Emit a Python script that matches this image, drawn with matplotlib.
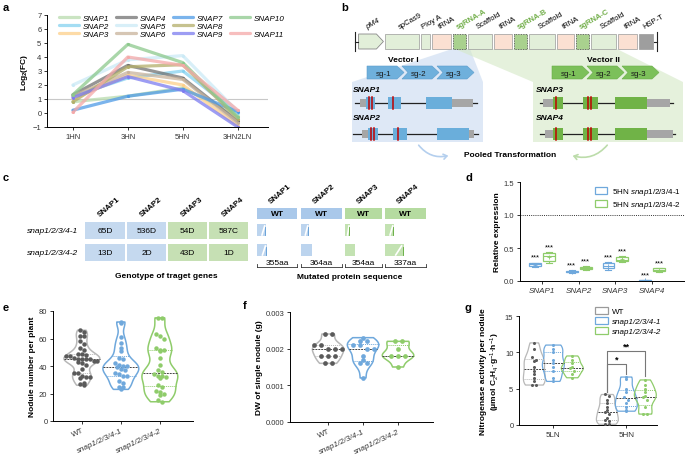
import numpy as np
import matplotlib
matplotlib.use('Agg')
import matplotlib.pyplot as plt
from matplotlib.patches import Polygon, Rectangle, FancyArrowPatch
from matplotlib.lines import Line2D

plt.rcParams['font.family'] = ['Liberation Sans', 'DejaVu Sans']
plt.rcParams['mathtext.fontset'] = 'custom'
plt.rcParams['mathtext.rm'] = 'Liberation Sans'
plt.rcParams['mathtext.it'] = 'Liberation Sans:italic'
plt.rcParams['mathtext.bf'] = 'Liberation Sans:bold'
plt.rcParams['axes.linewidth'] = 0.7
plt.rcParams['xtick.major.width'] = 0.7
plt.rcParams['ytick.major.width'] = 0.7
plt.rcParams['xtick.major.size'] = 2.5
plt.rcParams['ytick.major.size'] = 2.5
plt.rcParams['xtick.labelsize'] = 5.5
plt.rcParams['ytick.labelsize'] = 5.5
plt.rcParams['xtick.major.pad'] = 1.5
plt.rcParams['ytick.major.pad'] = 1.5

# ------------------------------------------------------------------ data
# panel a
stages = ['1HN', '3HN', '5HN', '3HN2LN']
snap_names = ['SNAP1', 'SNAP2', 'SNAP3', 'SNAP4', 'SNAP5', 'SNAP6',
              'SNAP7', 'SNAP8', 'SNAP9', 'SNAP10', 'SNAP11']
snap1_fc = [0.8, 1.2, 1.8, -0.2]
snap2_fc = [1.2, 2.5, 3.0, 0.0]
snap3_fc = [1.0, 2.7, 2.0, -0.9]
snap4_fc = [1.3, 3.4, 2.5, -0.6]
snap5_fc = [2.0, 3.8, 4.1, 0.1]
snap6_fc = [1.2, 2.9, 2.4, -0.7]
snap7_fc = [0.2, 1.2, 1.7, 0.1]
snap8_fc = [0.8, 3.3, 3.45, -0.4]
snap9_fc = [1.1, 2.6, 1.6, -1.0]
snap10_fc = [1.3, 4.9, 3.6, -0.3]
snap11_fc = [0.05, 4.0, 3.4, 0.2]
snap_colors = ['#b9dcae', '#86d2f0', '#fdd08a', '#727272', '#cbeaf6', '#c9b39b',
               '#4f9be6', '#b3ae6a', '#7d7cf0', '#8cc98c', '#f5a9a9']

# panel b
bar_parts = ['pM4', 'spCas9', 'Ploy A', 'tRNA', 'sgRNA-A', 'Scaffold', 'tRNA',
             'sgRNA-B', 'Scaffold', 'tRNA', 'sgRNA-C', 'Scaffold', 'tRNA', 'HSP-T']
vector1_genes = ['SNAP1', 'SNAP2']
vector2_genes = ['SNAP3', 'SNAP4']
sg_labels = ['sg-1', 'sg-2', 'sg-3']

# panel c
c_genes = ['SNAP1', 'SNAP2', 'SNAP3', 'SNAP4']
c_lines = ['snap1/2/3/4-1', 'snap1/2/3/4-2']
genotype_line1 = ['65D', '536D', '54D', '587C']
genotype_line2 = ['13D', '2D', '43D', '1D']
protein_len = [355, 364, 354, 337]
mutant_len_line1 = [80, 70, 45, 75]
mutant_len_line2 = [88, 95, 93, 160]

# panel d
d_genes = ['SNAP1', 'SNAP2', 'SNAP3', 'SNAP4']
d_labels = ['5HN $\\mathit{snap1/2/3/4}$-$\\mathit{1}$', '5HN $\\mathit{snap1/2/3/4}$-$\\mathit{2}$']
d1_low = [0.21, 0.12, 0.17, 0.00]
d1_q1 = [0.23, 0.13, 0.19, 0.005]
d1_med = [0.26, 0.14, 0.23, 0.01]
d1_q3 = [0.27, 0.15, 0.27, 0.015]
d1_high = [0.28, 0.16, 0.29, 0.02]
d2_low = [0.28, 0.17, 0.29, 0.14]
d2_q1 = [0.31, 0.18, 0.30, 0.15]
d2_med = [0.38, 0.19, 0.32, 0.17]
d2_q3 = [0.42, 0.21, 0.36, 0.19]
d2_high = [0.44, 0.22, 0.38, 0.20]

# panel e
e_groups = ['WT', 'snap1/2/3/4-1', 'snap1/2/3/4-2']
e_wt = [66, 65, 62, 62, 58, 56, 53, 52, 49, 49, 48, 47, 47, 46, 45, 45, 45, 45,
        44, 44, 43, 42, 41, 38, 35, 35, 33, 32, 32, 31, 28, 27, 26]
e_m1 = [72, 71, 61, 57, 53, 51, 46, 45, 42, 41, 40, 40, 39, 38, 37, 35, 34, 33,
        33, 29, 28, 25, 25, 23]
e_m2 = [75, 75, 63, 62, 60, 53, 52, 52, 51, 46, 41, 37, 36, 34, 33, 33, 32, 31,
        26, 25, 22, 21, 20, 19, 15, 14]

# panel f
f_wt = [0.0024, 0.0024, 0.0021, 0.0021, 0.0020, 0.0020, 0.0020, 0.0018, 0.0018,
        0.0018, 0.0016, 0.0016]
f_m1 = [0.0023, 0.0022, 0.0022, 0.0021, 0.0021, 0.0020, 0.0020, 0.0018, 0.0017,
        0.0016, 0.0016, 0.0012]
f_m2 = [0.0022, 0.0022, 0.0020, 0.0018, 0.0018, 0.0018, 0.0015]

# panel g
g_conditions = ['5LN', '5HN']
g_legend = ['WT', 'snap1/2/3/4-1', 'snap1/2/3/4-2']
g_wt_ln = [11.3, 10.5, 9.3, 9.0, 8.8, 8.0, 7.5, 7.0, 6.5, 6.0, 5.5, 5.5]
g_m1_ln = [11.0, 10.5, 10.0, 9.0, 8.5, 8.0, 7.5, 6.5, 6.0]
g_m2_ln = [9.5, 9.0, 8.5, 8.0, 7.8, 7.5, 7.0, 6.5]
g_wt_hn = [4.2, 4.0, 3.5, 3.0, 2.5, 2.0, 1.8, 1.5, 1.0, 0.7, 0.5, 0.2, 0.1]
g_m1_hn = [6.6, 6.3, 5.0, 4.5, 3.8, 3.5, 3.0, 2.5, 2.0, 1.9]
g_m2_hn = [6.2, 5.5, 5.0, 4.5, 4.0, 3.8, 3.5, 2.5, 1.5, 1.5]

# ------------------------------------------------------------------ layout helpers
W, H = 685, 460
fig = plt.figure(figsize=(6.85, 4.6), dpi=100)


def rect(x0, y0, x1, y1):
    return [x0 / W, 1 - y1 / H, (x1 - x0) / W, (y1 - y0) / H]


BLUE = '#6fa8dc'
GREEN = '#8fcc6b'
GREY_PT = '#5a5a5a'
GREY_V = '#b8b8b8'

axf = fig.add_axes([0, 0, 1, 1], zorder=0)
axf.set_xlim(0, W)
axf.set_ylim(H, 0)
axf.axis('off')

for lab, (x, y) in zip('abcdefg', [(3, 8), (341, 8), (3, 178), (466, 178), (3, 308), (243, 306), (465, 308)]):
    axf.text(x, y, lab, fontsize=8, fontweight='bold', va='center', ha='left')


def style(ax):
    for s in ['top', 'right']:
        ax.spines[s].set_visible(False)
    ax.tick_params(colors='#333333')


# ------------------------------------------------------------------ panel a
axa = fig.add_axes(rect(47, 16, 268, 128))
style(axa)
series = [snap1_fc, snap2_fc, snap3_fc, snap4_fc, snap5_fc, snap6_fc, snap7_fc,
          snap8_fc, snap9_fc, snap10_fc, snap11_fc]
xs = np.arange(len(stages))
handles = []
for name, vals, col in zip(snap_names, series, snap_colors):
    h, = axa.plot(xs, vals, color=col, lw=2.3, alpha=0.75, solid_capstyle='round')
    axa.plot(xs, vals, 'o', color=col, ms=2.2, mec='none')
    handles.append(h)
axa.axhline(1, color='#c8c8c8', lw=0.8, zorder=0)
axa.set_xlim(-0.47, 3.55)
axa.set_ylim(-1, 7)
axa.set_yticks(range(-1, 8))
axa.set_xticks(xs)
axa.set_xticklabels(stages)
axa.set_ylabel('Log$_\\mathbf{2}$(FC)', fontsize=6, fontweight='bold', labelpad=2)
blank = Line2D([], [], color='none')
leg_h = handles[:10] + [blank, handles[10]]
leg_l = snap_names[:10] + ['', snap_names[10]]
axa.legend(leg_h, leg_l, ncol=4, loc='upper left', bbox_to_anchor=(0.03, 1.06),
           frameon=False, prop={'size': 5.8, 'style': 'italic'}, handlelength=2.4,
           handletextpad=0.5, columnspacing=0.9, labelspacing=0.05, borderpad=0.2)

# ------------------------------------------------------------------ panel b
edges = [358, 384, 420, 431, 452, 467, 493, 513, 528, 556, 575, 590, 617, 638, 654]
by0, by1 = 35, 50
axf.add_patch(Polygon([(452, by1), (470, by1), (483, 83), (483, 143), (352, 143), (352, 83)],
                      closed=True, fc='#c9daf0', ec='none', alpha=0.6, zorder=1))
axf.add_patch(Polygon([(455, by1), (617, by1), (683, 83), (683, 143), (533, 143), (533, 83)],
                      closed=True, fc='#d4e8c6', ec='none', alpha=0.6, zorder=1))
part_fc = {'pM4': '#e2efd9', 'spCas9': '#e2efd9', 'Ploy A': '#e2efd9', 'tRNA': '#fbe0d2',
           'Scaffold': '#e2efd9', 'HSP-T': '#9e9e9e'}
for i, name in enumerate(bar_parts):
    x0, x1 = edges[i] + 0.6, edges[i + 1] - 0.6
    if name == 'pM4':
        axf.add_patch(Polygon([(x0, by0), (x1 - 7, by0), (x1, (by0 + by1) / 2), (x1 - 7, by1), (x0, by1)],
                              closed=True, fc=part_fc[name], ec='#888888', lw=0.6, zorder=3))
    elif name.startswith('sgRNA'):
        axf.add_patch(Rectangle((x0, by0), x1 - x0, by1 - by0, fc='#a9d18e', ec='#444444',
                                lw=0.6, ls=(0, (1, 1)), zorder=3))
    else:
        axf.add_patch(Rectangle((x0, by0), x1 - x0, by1 - by0, fc=part_fc[name], ec='#999999',
                                lw=0.5, zorder=3))
    cx = (edges[i] + edges[i + 1]) / 2
    kw = dict(fontsize=5.5, rotation=30, rotation_mode='anchor', ha='left', va='bottom', zorder=4)
    if name.startswith('sgRNA'):
        axf.text(cx - 1, 31, name, color='#70ad47', fontweight='bold', **kw)
    elif name == 'pM4':
        axf.text(cx - 3, 31, name, style='italic', **kw)
    else:
        axf.text(cx - 1, 31, name, **kw)
axf.plot([355, 355], [33, 52], color='#222222', lw=0.8, zorder=4)
axf.plot([355, 358], [42.5, 42.5], color='#222222', lw=0.8, zorder=4)
axf.plot([657, 657], [33, 52], color='#222222', lw=0.8, zorder=4)
axf.plot([654, 657], [42.5, 42.5], color='#222222', lw=0.8, zorder=4)


def sg_arrows(x_start, color, ec):
    wd, ht, tip = 35, 13, 7
    y0 = 67
    for k, lab in enumerate(sg_labels):
        xa = x_start + k * wd
        pts = [(xa, y0), (xa + wd - tip + 2, y0), (xa + wd + 2, y0 + ht / 2),
               (xa + wd - tip + 2, y0 + ht), (xa, y0 + ht)]
        if k > 0:
            pts.append((xa + tip - 1, y0 + ht / 2))
        axf.add_patch(Polygon(pts, closed=True, fc=color, ec=ec, lw=0.4, zorder=3))
        axf.text(xa + wd / 2 - 1, y0 + ht / 2 + 0.5, lab, fontsize=5.8, ha='center', va='center',
                 color='#1a1a1a', zorder=4)


sg_arrows(367, '#6fb0dc', '#5a9ccc')
sg_arrows(552, '#7cc05a', '#69ad48')
axf.text(403, 61, 'Vector I', fontsize=6, fontweight='bold', ha='center', va='center', zorder=4)
axf.text(603, 61, 'Vector II', fontsize=6, fontweight='bold', ha='center', va='center', zorder=4)


def gene_model(y, xline, grey_l, exons, grey_r, cuts, ecol):
    axf.plot(xline, [y, y], color='#222222', lw=0.9, zorder=3)
    for (a, b) in [grey_l, grey_r]:
        axf.add_patch(Rectangle((a, y - 4), b - a, 8, fc='#a6a6a6', ec='none', zorder=4))
    for (a, b) in exons:
        axf.add_patch(Rectangle((a, y - 6), b - a, 12, fc=ecol, ec='none', zorder=4))
    for c in cuts:
        axf.plot([c, c], [y - 6, y + 6], color='#c00000', lw=1.1, zorder=5)


gene_model(104, [355, 477], (360, 366), [(366, 375), (388, 401), (426, 452)], (452, 473), [369, 372.5, 393], '#6aaedb')
gene_model(135, [353, 478], (362, 368), [(368, 378), (393, 407), (437, 469)], (469, 474), [371, 374.5, 398], '#6aaedb')
gene_model(104, [540, 673], (543, 553), [(553, 563), (583, 598), (615, 647)], (647, 670), [556.5, 588, 591.5], '#70b347')
gene_model(135, [540, 675], (545, 553), [(553, 563), (583, 598), (615, 647)], (647, 673), [556.5, 588, 591.5], '#70b347')
for g, y in zip(vector1_genes, [91, 119]):
    axf.text(353, y, g, fontsize=6, fontweight='bold', style='italic', va='center', zorder=5)
for g, y in zip(vector2_genes, [91, 119]):
    axf.text(536, y, g, fontsize=6, fontweight='bold', style='italic', va='center', zorder=5)
axf.text(510, 156, 'Pooled Transformation', fontsize=6, fontweight='bold', ha='center', va='center', zorder=5)
axf.add_patch(FancyArrowPatch((417, 144), (451, 156), connectionstyle='arc3,rad=0.35',
                              arrowstyle='->,head_length=2.5,head_width=1.8', color='#b4cfee', lw=1.2, zorder=5))
axf.add_patch(FancyArrowPatch((609, 144), (570, 156), connectionstyle='arc3,rad=-0.35',
                              arrowstyle='->,head_length=2.5,head_width=1.8', color='#bcdcaa', lw=1.2, zorder=5))

# ------------------------------------------------------------------ panel c
cell_x = [(85, 125), (127, 166), (168, 207), (209, 248)]
cell_y = [(223, 240), (245, 262)]
cell_col = ['#c5d9ef', '#c5d9ef', '#c6e0b4', '#c6e0b4']
for r, (row, (ya, yb)) in enumerate(zip([genotype_line1, genotype_line2], cell_y)):
    axf.text(78, (ya + yb) / 2, c_lines[r], fontsize=6, style='italic', ha='right', va='center')
    for txt, (xa, xb), col in zip(row, cell_x, cell_col):
        axf.add_patch(Rectangle((xa, ya), xb - xa, yb - ya, fc=col, ec='none'))
        axf.text((xa + xb) / 2, (ya + yb) / 2 + 0.5, txt, fontsize=6, ha='center', va='center')
for g, (xa, xb) in zip(c_genes, cell_x):
    axf.text(xa + 16, 219, g, fontsize=5.8, fontweight='bold', rotation=40,
             rotation_mode='anchor', ha='left', va='bottom')
axf.text(166, 277, 'Genotype of traget genes', fontsize=6, fontweight='bold', ha='center', va='center')

wt_x0 = [257, 301, 345, 385]
wt_w = [40, 41, 37, 41]
prot_col = ['#a9c8ea', '#a9c8ea', '#b5dba0', '#b5dba0']
prot_light = ['#bcd4ee', '#bcd4ee', '#c3e2b2', '#c3e2b2']
stripe_col = ['#5d9bd5', '#5d9bd5', '#5fa83a', '#5fa83a']
for k in range(4):
    x0, w = wt_x0[k], wt_w[k]
    axf.add_patch(Rectangle((x0, 209), w, 11, fc=prot_col[k], ec='none'))
    axf.text(x0 + w / 2, 214.8, 'WT', fontsize=6, fontweight='bold', ha='center', va='center')
    axf.text(x0 + 15, 206, c_genes[k], fontsize=5.8, fontweight='bold', rotation=40,
             rotation_mode='anchor', ha='left', va='bottom')
    for (ya, mlen, stripe) in [(225, mutant_len_line1[k], True), (245, mutant_len_line2[k], k != 1 and k != 2)]:
        mw = w * mlen / protein_len[k]
        axf.add_patch(Rectangle((x0, ya), mw, 12, fc=prot_light[k], ec='none'))
        if stripe:
            axf.plot([x0 + mw * 0.55, x0 + mw * 0.85], [ya + 11, ya + 2], color='white', lw=1.2)
            axf.plot([x0 + mw * 0.92, x0 + mw * 0.92], [ya + 3, ya + 11], color=stripe_col[k], lw=0.6)
    axf.plot([x0, x0 + w], [268, 268], color='#333333', lw=0.6)
    axf.plot([x0, x0], [264.5, 268], color='#333333', lw=0.6)
    axf.plot([x0 + w, x0 + w], [264.5, 268], color='#333333', lw=0.6)
    axf.text(x0 + w / 2, 267.5, f'{protein_len[k]}aa', fontsize=6, ha='center', va='bottom')
axf.text(350, 278, 'Mutated protein sequence', fontsize=6, fontweight='bold', ha='center', va='center')

# ------------------------------------------------------------------ panel d
axd = fig.add_axes(rect(520, 183, 685, 282))
style(axd)
dpos = np.arange(len(d_genes))
for stats_src, off, col, lab in [((d1_low, d1_q1, d1_med, d1_q3, d1_high), -0.19, BLUE, d_labels[0]),
                                 ((d2_low, d2_q1, d2_med, d2_q3, d2_high), 0.19, GREEN, d_labels[1])]:
    lo, q1, md, q3, hi = stats_src
    stats = [dict(whislo=lo[i], q1=q1[i], med=md[i], q3=q3[i], whishi=hi[i],
                  mean=(q1[i] + q3[i]) / 2, fliers=[]) for i in range(len(d_genes))]
    axd.bxp(stats, positions=dpos + off, widths=0.32, showfliers=False, showmeans=True,
            patch_artist=True,
            boxprops=dict(facecolor='none', edgecolor=col, lw=0.9),
            whiskerprops=dict(color=col, lw=0.8), capprops=dict(color=col, lw=0.8),
            medianprops=dict(color=col, lw=0.8),
            meanprops=dict(marker='+', markeredgecolor=col, markersize=3, markeredgewidth=0.6))
    for i in range(len(d_genes)):
        axd.text(dpos[i] + off, hi[i] + 0.025, '***', fontsize=5.5, ha='center', va='bottom')
axd.axhline(1.0, color='#333333', lw=0.7, ls=(0, (1, 1.2)))
axd.set_xlim(-0.6, 3.9)
axd.set_ylim(0, 1.5)
axd.set_yticks([0, 0.5, 1.0, 1.5])
axd.set_yticklabels(['0.0', '0.5', '1.0', '1.5'])
axd.set_xticks(dpos)
axd.set_xticklabels(d_genes, style='italic', fontsize=5.8)
axd.set_ylabel('Relative expression', fontsize=6, fontweight='bold', labelpad=2)
leg_handles = [Rectangle((0, 0), 1, 1, fc='white', ec=BLUE, lw=0.9),
               Rectangle((0, 0), 1, 1, fc='white', ec=GREEN, lw=0.9)]
axd.legend(leg_handles, d_labels, loc='upper right', bbox_to_anchor=(1.02, 1.03), frameon=False,
           fontsize=5.8, handlelength=1.6, handleheight=1.0, handletextpad=0.6, labelspacing=0.25)


# ------------------------------------------------------------------ violins
def swarm_x(vals, center, bin_size, dx):
    vals = np.asarray(vals, dtype=float)
    out = np.zeros(len(vals))
    bins = np.floor(vals / bin_size)
    for b in np.unique(bins):
        idx = np.where(bins == b)[0]
        n = len(idx)
        out[idx] = center + (np.arange(n) - (n - 1) / 2) * dx
    return out


def violin(ax, data, pos, width, ecol, pcol, bw, bin_size, dx, ms=3.2, lw=1.1):
    parts = ax.violinplot([data], positions=[pos], widths=width, showextrema=False, bw_method=bw)
    body = parts['bodies'][0]
    body.set_alpha(1)
    body.set_facecolor('none')
    body.set_edgecolor(ecol)
    body.set_linewidth(lw)
    verts = body.get_paths()[0].vertices
    right = verts[verts[:, 0] >= pos]
    order = np.argsort(right[:, 1])
    ry, rx = right[order, 1], right[order, 0]
    q1, md, q3 = np.percentile(data, [25, 50, 75])
    for q, ls, c in [(q1, (0, (1, 1)), ecol), (q3, (0, (1, 1)), ecol), (md, (0, (2, 1)), '#444444')]:
        hw = np.interp(q, ry, rx) - pos
        ax.plot([pos - hw, pos + hw], [q, q], color=c, lw=0.7, ls=ls, zorder=2)
    ax.scatter(swarm_x(data, pos, bin_size, dx), data, s=ms ** 2, color=pcol, zorder=3, lw=0)


# ------------------------------------------------------------------ panel e
axe = fig.add_axes(rect(53, 312, 193, 422))
style(axe)
for i, (dat, ec, pc) in enumerate([(e_wt, GREY_V, GREY_PT), (e_m1, BLUE, BLUE), (e_m2, GREEN, GREEN)]):
    violin(axe, dat, i, 0.92, ec, pc, 0.3, 4.0, 0.1, ms=3.2)
axe.set_xlim(-0.74, 2.85)
axe.set_ylim(0, 80)
axe.set_yticks([0, 20, 40, 60, 80])
axe.set_xticks(range(3))
axe.set_xticklabels(e_groups, rotation=25, ha='right', rotation_mode='anchor', fontsize=5.8)
for t in axe.get_xticklabels()[1:]:
    t.set_style('italic')
axe.set_ylabel('Nodule number per plant', fontsize=6, fontweight='bold', labelpad=2)

# ------------------------------------------------------------------ panel f
axfp = fig.add_axes(rect(290, 313, 433, 423))
style(axfp)
for i, (dat, ec, pc) in enumerate([(f_wt, GREY_V, GREY_PT), (f_m1, BLUE, BLUE), (f_m2, GREEN, GREEN)]):
    violin(axfp, dat, i, 0.9, ec, pc, 0.5, 0.0001, 0.2, ms=3.4)
axfp.set_xlim(-1.09, 3.0)
axfp.set_ylim(0, 0.003)
axfp.set_yticks([0, 0.001, 0.002, 0.003])
axfp.set_yticklabels(['0.000', '0.001', '0.002', '0.003'])
axfp.set_xticks(range(3))
axfp.set_xticklabels(e_groups, rotation=25, ha='right', rotation_mode='anchor', fontsize=5.8)
for t in axfp.get_xticklabels()[1:]:
    t.set_style('italic')
axfp.set_ylabel('DW of single nodule (g)', fontsize=6, fontweight='bold', labelpad=2)

# ------------------------------------------------------------------ panel g
axg = fig.add_axes(rect(519, 317, 657, 426))
style(axg)
goff = [-0.26, 0, 0.26]
gcols = [(GREY_V, GREY_PT), (BLUE, BLUE), (GREEN, GREEN)]
for ci, sets in enumerate([(g_wt_ln, g_m1_ln, g_m2_ln), (g_wt_hn, g_m1_hn, g_m2_hn)]):
    for k, dat in enumerate(sets):
        violin(axg, dat, ci + goff[k], 0.3, gcols[k][0], gcols[k][1], 0.45, 0.5, 0.055, ms=2.2, lw=0.9)
for (k, ytop, yend, star) in [(1, 8.4, 7.0, '*'), (2, 10.2, 6.8, '**')]:
    x0, x1 = 1 + goff[0], 1 + goff[k]
    axg.plot([x0, x0, x1, x1], [4.6, ytop, ytop, yend], color='#777777', lw=0.8)
    axg.text((x0 + x1) / 2, ytop + 0.1, star, fontsize=6.5, ha='center', va='bottom', fontweight='bold')
axg.set_xlim(-0.47, 1.42)
axg.set_ylim(0, 15)
axg.set_yticks([0, 5, 10, 15])
axg.set_xticks([0, 1])
axg.set_xticklabels(g_conditions, fontsize=5.8)
axg.set_ylabel('Nitrogenase activity per nodule\n(μmol C$_2$H$_4$·g$^{-1}$·h$^{-1}$)',
               fontsize=6, fontweight='bold', labelpad=2, linespacing=1.2)
g_handles = [Rectangle((0, 0), 1, 1, fc='white', ec=c[0] if i else '#9a9a9a', lw=0.9)
             for i, c in enumerate(gcols)]
leg = axg.legend(g_handles, g_legend, loc='upper right', bbox_to_anchor=(1.07, 1.13), frameon=False,
                 fontsize=5.8, handlelength=1.6, handleheight=1.0, handletextpad=0.6, labelspacing=0.2,
                 borderpad=0.1)
for t in leg.get_texts()[1:]:
    t.set_style('italic')

fig.savefig('out.png', dpi=100)
